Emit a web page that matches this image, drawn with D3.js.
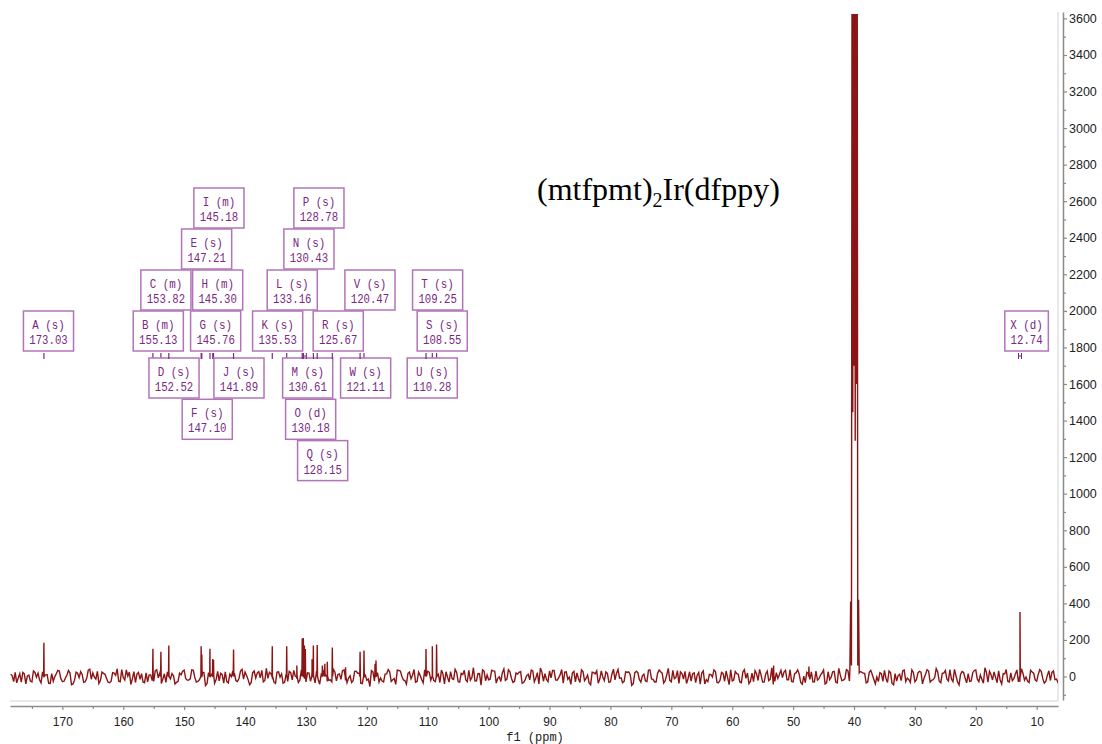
<!DOCTYPE html>
<html>
<head>
<meta charset="utf-8">
<script src="https://cdn.jsdelivr.net/npm/d3@7"></script>
<style>
  html, body { margin: 0; padding: 0; background: #fff; }
  svg { display: block; }
</style>
</head>
<body>
<svg id="chart" width="1102" height="744"></svg>
<script>
// ---------- data ----------
const xTickValues = [170,160,150,140,130,120,110,100,90,80,70,60,50,40,30,20,10];
const yTickValues = [0,200,400,600,800,1000,1200,1400,1600,1800,2000,2200,2400,2600,2800,3000,3200,3400,3600];

// baseline noise, read as two interleaved sample sets (0.5 ppm apart each, offset 0.25 ppm)
const noiseStart = 178.5;
const noiseStep = 0.5;
const noiseA = [
  12,-28,-35,15,22,-40,8,-30,22,18,-35,25,10,-38,-26,
  15,30,-28,-8,33,-45,-20,18,26,-32,-10,40,20,-14,-38,
  24,12,-31,-27,18,42,-29,-6,36,24,-12,-33,22,16,-34,
  -29,9,-27,37,19,-14,-32,25,16,-41,-26,9,35,-20,-13,
  34,-30,-18,24,-50,21,11,-37,28,17,-36,-28,13,31,-23,
  -11,39,25,-17,-34,30,19,-8,-29,44,23,-15,-38,26,14,
  -31,-27,21,33,-12,-20,47,-30,19,26,-35,-15,10,36,-27,
  -18,40,-24,14,32,-22,-9,-33,28,18,-37,29,-21,-55,25,
  16,-30,-25,13,38,-27,-11,35,30,-19,-42,24,7,-31,24,
  -16,36,29,-20,-22,45,-33,13,26,-31,-12,39,-28,17,34,
  -28,-20,48,-25,15,36,-23,-18,34,30,-10,-27,41,-14,26,
  -32,19,23,-37,-17,12,35,-29,21,46,-26,-16,30,33,-19,
  -8,38,24,-15,-43,28,20,-33,27,-11,-35,24,14,-37,31,
  -22,17,-29,40,18,-9,-34,26,25,-49,20,21,-31,13,-27,
  36,-16,-30,35,18,-23,44,-29,-12,32,25,-14,-38,26,15,
  -33,22,19,-41,-28,10,36,-32,-21,17,30,-45,-24,27,12,
  -34,37,19,-26,-28,15,39,-31,14,-22,47,-27,-11,34,24,
  -18,37,-29,21,13,-42,-33,16,25,-30,-20,8,36,-35,-17,
  26,-30,44,-23,-13,32,29,-19,-38,27,18,-35,23,11,-40,
  -28,15,34,-33,21,-46,-25,12,31,-27,-16,36,-29,20,24,
  -9,37,-31,-18,43,-26,17,33,-24,-14,39,-30,13,22,-35,
  -27,21,36,-28,-15,48,-31,10,25,-34,-19,16,38,-30,-23,
  14,-29,42,-20,-25,34,18,-26,37,-12,-27,31,22,-17,-33
];
const noiseB = [
  5,22,-8,-31,14,3,-25,30,-4,-18,26,9,-37,16,-2,
  33,-12,-27,8,19,-41,24,-6,11,-29,35,-15,-3,28,-22,
  17,-9,-34,21,6,-26,38,-19,2,-44,27,13,-16,-30,20,
  9,-23,31,-7,-38,15,25,-13,4,-32,18,29,-11,-20,36,
  -5,-27,12,22,-40,7,33,-17,-24,10,26,-35,-1,19,-28,
  30,-14,6,-45,21,-8,27,34,-22,-10,16,-31,24,-3,-37,
  13,28,-19,2,-33,37,-12,20,-26,-6,31,-42,15,8,-21,
  -29,25,11,-16,36,-34,4,-23,29,18,-39,7,-14,32,-25,
  21,-8,-30,14,26,-18,-43,33,1,-22,17,-12,38,-27,6,
  -35,19,23,-9,-28,12,35,-40,-4,27,-16,22,-31,10,-19,
  34,-6,-24,16,-47,29,8,-15,31,-36,-2,20,-21,37,-11,
  -26,13,27,-33,5,-18,30,-9,-41,24,15,-28,-7,33,-20,
  10,-37,26,-4,19,-29,-12,36,-23,8,-45,21,31,-14,-3,
  25,-32,14,-19,38,-7,-27,22,11,-40,29,-16,4,-24,35,
  -13,-30,18,26,-36,9,-21,33,-5,-38,16,28,-11,-25,20,
  7,-42,31,-17,12,-3,27,-34,22,-26,-8,37,-19,15,-30,
  24,-10,-39,18,32,-22,6,-31,29,-14,-44,21,11,-6,34,
  -18,-27,15,36,-33,2,23,-16,-29,30,-12,19,-41,26,-4,
  28,-35,9,-20,37,-25,13,-8,-43,24,17,-30,33,-15,-2,
  21,-26,-11,30,-38,16,5,-23,35,-9,-32,22,-17,28,-40,
  12,30,-21,-6,25,-34,19,-13,38,-28,3,-46,27,-10,16,
  -24,33,-15,8,-37,22,29,-19,-5,31,-41,14,-26,20,-12,
  36,-29,17,-3,-33,25,-18,10,28,-36,6,-22,30,-14,-27
];

// sample peaks (ppm, intensity)
const peakPpm    = [173.03,155.13,153.82,152.52,147.21,147.10,145.76,145.30,145.18,141.89,
                    135.53,133.16,131.5,130.61,130.43,130.26,130.10,129.0,128.78,128.15,
                    127.3,126.9,126.5,125.67,123.5,121.11,120.47,118.65,118.5,
                    110.28,109.25,108.55,53.2,47.4,12.74];
const peakHeight = [184,152,135,170,165,120,152,95,90,148,
                    165,165,60,208,210,170,150,95,170,172,
                    60,70,80,158,50,135,142,70,88,
                    150,165,175,60,55,353];

// DMSO-d6 solvent multiplet: line maxima and the minima between them
const solventPpm    = [40.55,40.30,40.10,39.90,39.70,39.50,39.25];
const solventHeight = [410,5000,5000,5000,5000,5000,420];
const solventValleyPpm    = [40.68,40.42,40.20,40.00,39.80,39.60,39.38,39.14];
const solventValleyHeight = [30,60,1445,1700,1290,1600,60,20];

// peak annotations
const labelNames  = ["A","B","C","D","E","F","G","H","I","J","K","L","M","N","O","P","Q","R","S","T","U","V","W","X"];
const labelMult   = ["s","m","m","s","s","s","s","m","m","s","s","s","s","s","d","s","s","s","s","s","s","s","s","d"];
const labelShift  = [173.03,155.13,153.82,152.52,147.21,147.10,145.76,145.30,145.18,141.89,135.53,133.16,
                     130.61,130.43,130.18,128.78,128.15,125.67,108.55,109.25,110.28,120.47,121.11,12.74];
// label layout: box centre (in ppm) and stacking row
const labelCentre = [172.28,154.25,153.0,151.67,146.31,146.21,144.83,144.50,144.29,141.0,134.65,132.25,
                     129.72,129.51,129.23,127.87,127.26,124.70,107.62,108.38,109.26,119.49,120.20,11.66];
const labelRow    = [0,0,-1,1,-2,2,0,-1,-3,1,0,-1,1,-2,2,-3,3,0,0,-1,1,-1,1,0];

const titleMain = "(mtfpmt)";
const titleSub = "2";
const titleEnd = "Ir(dfppy)";
const xAxisTitle = "f1 (ppm)";

// ---------- scales ----------
const svg = d3.select("#chart");
const x = d3.scaleLinear().domain([178.6, 6.5]).range([10, 1058]);
const y = d3.scaleLinear().domain([-128.6, 3635]).range([700, 12]);

// frame (light)
svg.append("line").attr("x1", 10).attr("x2", 1058).attr("y1", 701).attr("y2", 701)
  .attr("stroke", "#e2e2e2").attr("stroke-width", 1.6);
svg.append("line").attr("x1", 1058).attr("x2", 1058).attr("y1", 12).attr("y2", 701)
  .attr("stroke", "#e2e2e2").attr("stroke-width", 1.6);

// ---------- spectrum ----------
const inSolvent = p => p > 39.1 && p < 40.75;
let pts = [];
noiseA.forEach((v, i) => pts.push([noiseStart - i * noiseStep, v]));
noiseB.forEach((v, i) => pts.push([noiseStart - 0.25 - i * noiseStep, v]));
pts = pts.filter(d => !inSolvent(d[0]));
const hw = 0.05;
peakPpm.forEach((p, i) => {
  pts.push([p + hw, 0], [p, peakHeight[i]], [p - hw, 0]);
});
solventPpm.forEach((p, i) => pts.push([p, solventHeight[i]]));
solventValleyPpm.forEach((p, i) => pts.push([p, solventValleyHeight[i]]));
pts.sort((a, b) => b[0] - a[0]);

svg.append("clipPath").attr("id", "plotclip")
  .append("rect").attr("x", 10).attr("y", 14).attr("width", 1048).attr("height", 686);

const line = d3.line().x(d => x(d[0])).y(d => y(d[1]));
svg.append("path")
  .datum(pts)
  .attr("clip-path", "url(#plotclip)")
  .attr("fill", "none")
  .attr("stroke", "#8b1414")
  .attr("stroke-width", 1.4)
  .attr("stroke-linejoin", "miter")
  .attr("d", line);

// ---------- x axis ----------
const axisColor = "#8c8c8c";
const xAxisG = svg.append("g").attr("transform", "translate(0,706)");
xAxisG.call(d3.axisBottom(x).tickValues(xTickValues).tickSize(4).tickSizeOuter(0).tickPadding(7.5).tickFormat(d3.format("d")));
const xMinor = svg.append("g").attr("transform", "translate(0,706)");
xMinor.call(d3.axisBottom(x).tickValues(d3.range(175, 6, -10)).tickSize(3).tickSizeOuter(0).tickFormat(""));
xMinor.select(".domain").remove();
[xAxisG, xMinor].forEach(g => {
  g.select(".domain").attr("stroke", axisColor).attr("stroke-width", 1.5);
  g.selectAll(".tick line").attr("stroke", axisColor).attr("stroke-width", 1.2);
});
xAxisG.selectAll(".tick text").attr("fill", "#222").attr("font-size", "12px")
  .attr("font-family", "'Liberation Sans', Arial, sans-serif");

svg.append("text").attr("x", 535).attr("y", 741).attr("text-anchor", "middle")
  .attr("font-family", "'Liberation Mono', 'DejaVu Sans Mono', monospace")
  .attr("font-size", "12px").attr("fill", "#222").text(xAxisTitle);

// ---------- y axis ----------
const yAxisG = svg.append("g").attr("transform", "translate(1063,0)");
yAxisG.call(d3.axisRight(y).tickValues(yTickValues).tickSize(4).tickSizeOuter(0).tickPadding(2).tickFormat(d3.format("d")));
const yMinor = svg.append("g").attr("transform", "translate(1063,0)");
yMinor.call(d3.axisRight(y).tickValues(d3.range(-100, 3600, 200)).tickSize(3).tickSizeOuter(0).tickFormat(""));
yMinor.select(".domain").remove();
[yAxisG, yMinor].forEach(g => {
  g.select(".domain").attr("stroke", axisColor).attr("stroke-width", 1.5);
  g.selectAll(".tick line").attr("stroke", axisColor).attr("stroke-width", 1.2);
});
yAxisG.selectAll(".tick text").attr("fill", "#222").attr("font-size", "12.5px")
  .attr("font-family", "'Liberation Sans', Arial, sans-serif");

// ---------- title ----------
const title = svg.append("text").attr("x", 537).attr("y", 200)
  .attr("font-family", "'Liberation Serif', 'Times New Roman', serif")
  .attr("font-size", "32px").attr("fill", "#000");
title.append("tspan").text(titleMain);
title.append("tspan").attr("font-size", "20px").attr("dy", 7).text(titleSub);
title.append("tspan").attr("dy", -7).text(titleEnd);

// ---------- peak labels ----------
const rowY = r => r <= 0 ? 311 + r * 41 : 358 + (r - 1) * 41.3;
const boxColor = "#b274b8";
const txtColor = "#7a2882";
const charW = 6.6;
const lab = svg.append("g");
labelNames.forEach((n, i) => {
  const valTxt = labelShift[i].toFixed(2);
  const headTxt = `${n} (${labelMult[i]})`;
  const w = valTxt.length * charW + 10.5;
  const cx = x(labelCentre[i]);
  const top = rowY(labelRow[i]);
  const g = lab.append("g");
  g.append("rect").attr("x", cx - w / 2).attr("y", top).attr("width", w).attr("height", 40)
    .attr("fill", "#fff").attr("stroke", boxColor).attr("stroke-width", 1.5);
  g.append("text").attr("x", cx).attr("y", top + 17.5).attr("text-anchor", "middle")
    .attr("font-family", "'Liberation Mono', 'DejaVu Sans Mono', monospace")
    .attr("font-size", "13px").attr("fill", txtColor)
    .attr("textLength", headTxt.length * 6.5).attr("lengthAdjust", "spacingAndGlyphs")
    .text(headTxt);
  g.append("text").attr("x", cx).attr("y", top + 33).attr("text-anchor", "middle")
    .attr("font-family", "'Liberation Mono', 'DejaVu Sans Mono', monospace")
    .attr("font-size", "13px").attr("fill", txtColor)
    .attr("textLength", valTxt.length * 6.4).attr("lengthAdjust", "spacingAndGlyphs")
    .text(valTxt);
  // peak position marks
  const px = x(labelShift[i]);
  if (labelMult[i] === "d") {
    [px - 1.5, px + 1.5].forEach(xx => {
      lab.append("line").attr("x1", xx).attr("x2", xx).attr("y1", 353).attr("y2", 359)
        .attr("stroke", txtColor).attr("stroke-width", 1);
    });
    lab.append("line").attr("x1", px - 1.5).attr("x2", px + 1.5).attr("y1", 356).attr("y2", 356)
      .attr("stroke", txtColor).attr("stroke-width", 1);
  } else {
    lab.append("line").attr("x1", px).attr("x2", px).attr("y1", 353).attr("y2", 359)
      .attr("stroke", txtColor).attr("stroke-width", 1.2);
  }
});
</script>
</body>
</html>
